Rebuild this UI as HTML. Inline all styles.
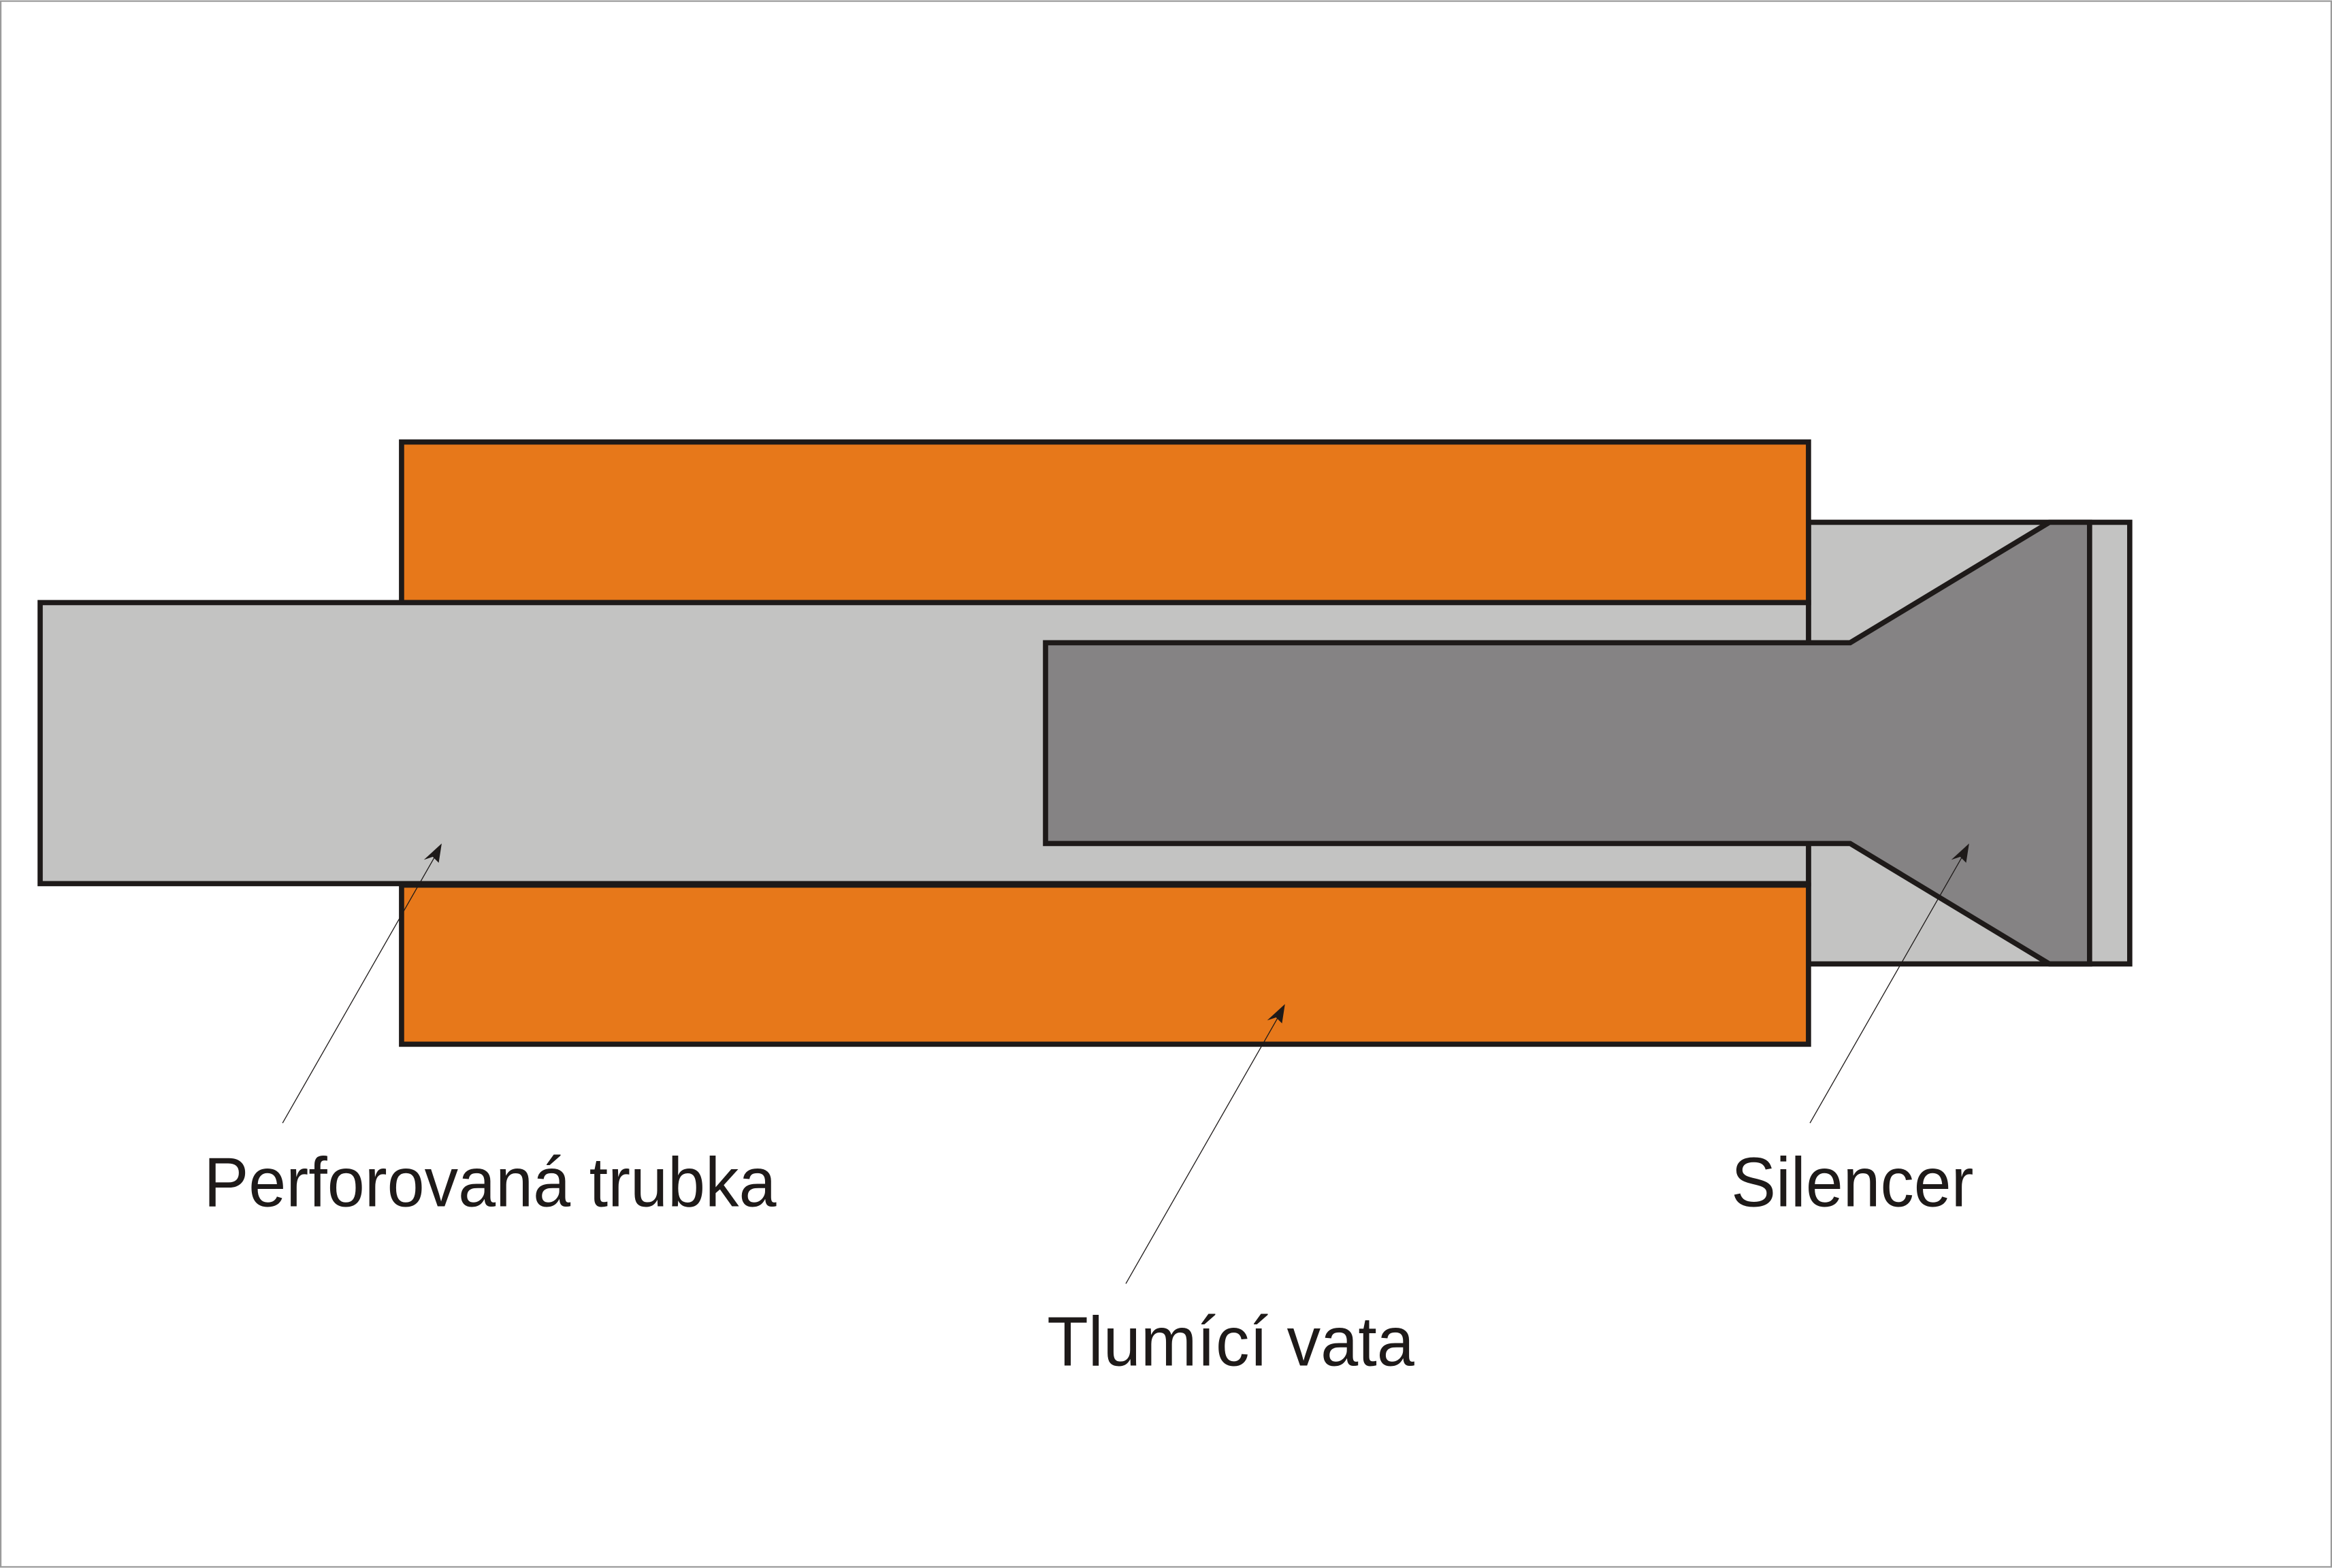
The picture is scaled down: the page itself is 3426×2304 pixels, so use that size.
<!DOCTYPE html>
<html><head><meta charset="utf-8"><style>
html,body{margin:0;padding:0;background:#fff;}
svg{display:block;}
</style></head><body>
<svg width="3426" height="2304" viewBox="0 0 1568 1054" xmlns="http://www.w3.org/2000/svg">
<rect x="0.5" y="0.5" width="1567" height="1053" fill="#fff" stroke="#9a9a9a" stroke-width="1"/>
<g stroke="#1e1a19" stroke-width="3.5" stroke-linejoin="miter">
<rect x="1216" y="351" width="216" height="297" fill="#c3c3c2"/>
<rect x="270" y="297" width="946" height="108" fill="#e7781a"/>
<rect x="270" y="595" width="946" height="107" fill="#e7781a"/>
<rect x="27" y="405" width="1189" height="189" fill="#c3c3c2"/>
<polygon points="703,432 1244,432 1378,351 1405,351 1405,648 1378,648 1244,567 703,567" fill="#858384"/>
</g>
<g stroke="#1e1a19" stroke-width="0.6" fill="none">
<line x1="190" y1="755" x2="294" y2="573"/>
<line x1="757" y1="863" x2="861" y2="681"/>
<line x1="1217" y1="755" x2="1321" y2="573"/>
</g>
<g fill="#1e1a19">
<polygon points="297,567 295,580 291,576 285,578"/>
<polygon points="864,675 862,688 858,684 852,686"/>
<polygon points="1324,567 1322,580 1318,576 1312,578"/>
</g>
<g font-family="Liberation Sans, Arial, sans-serif" font-size="47" fill="#1e1a19">
<text x="137" y="811" textLength="385" lengthAdjust="spacingAndGlyphs">Perforovaná trubka</text>
<text x="704" y="918" textLength="247" lengthAdjust="spacingAndGlyphs">Tlumící vata</text>
<text x="1164" y="811" textLength="163" lengthAdjust="spacingAndGlyphs">Silencer</text>
</g>
</svg>
</body></html>
